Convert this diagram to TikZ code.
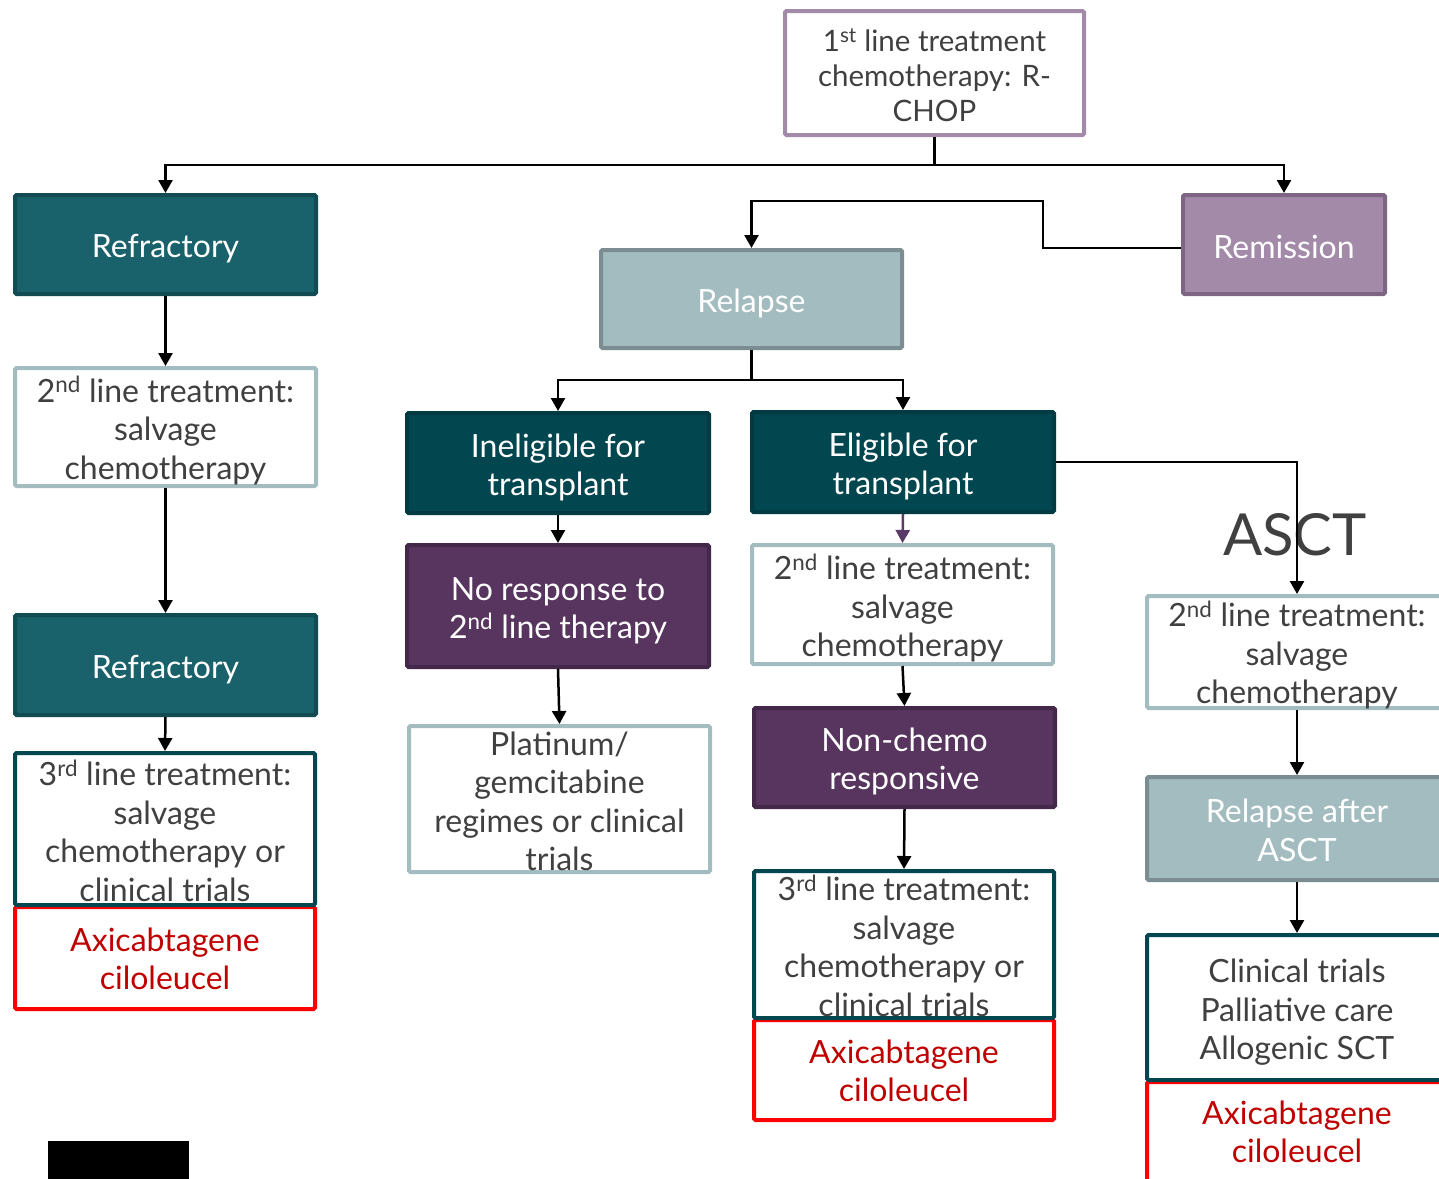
\documentclass[tikz,border=0pt]{standalone}
\usepackage{fontspec}
\setmainfont{Lato}
\usetikzlibrary{arrows.meta}
\definecolor{tealA}{HTML}{19626B}
\definecolor{tealAb}{HTML}{124B52}
\definecolor{dteal}{HTML}{02464F}
\definecolor{dtealb}{HTML}{013A42}
\definecolor{purp}{HTML}{58355F}
\definecolor{purpb}{HTML}{44284A}
\definecolor{lteal}{HTML}{A3BCC0}
\definecolor{ltealb}{HTML}{7B8D90}
\definecolor{mauve}{HTML}{A38AA8}
\definecolor{mauveb}{HTML}{7F6584}
\definecolor{txtgray}{HTML}{404040}
\definecolor{redb}{HTML}{FF0000}
\definecolor{redt}{HTML}{C00000}
\definecolor{arrpurp}{HTML}{5A3A66}
\newcommand\fsmain{\fontsize{32}{38.5}\selectfont}
\newcommand\fstop{\fontsize{29.5}{35}\selectfont}
\tikzset{
  box/.style={rectangle, rounded corners=1.5pt, line width=4pt, inner sep=0pt},
  tealbox/.style={box, fill=tealA, draw=tealAb},
  dtealbox/.style={box, fill=dteal, draw=dtealb},
  purpbox/.style={box, fill=purp, draw=purpb},
  ltealbox/.style={box, fill=lteal, draw=ltealb},
  mauvebox/.style={box, fill=mauve, draw=mauveb},
  wlbox/.style={box, fill=white, draw=lteal},
  wdbox/.style={box, fill=white, draw=dteal},
  redbox/.style={box, fill=white, draw=redb},
  txt/.style={align=center, inner sep=0pt, font=\fsmain},
  wtxt/.style={txt, text=white},
  gtxt/.style={txt, text=txtgray},
  rtxt/.style={txt, text=redt},
  conn/.style={line width=2.5pt, draw=black},
  arr/.style={conn, -{Triangle[length=13pt,width=14pt]}},
}
\begin{document}
\begin{tikzpicture}[x=1pt,y=1pt]
\useasboundingbox (0,0) rectangle (1439,-1178);
\clip (0,0) rectangle (1439,-1178);
% top
\node[wlbox, draw=mauve, minimum width=299, minimum height=124] (top) at (934.5,-73) {};
\node[gtxt, font=\fstop] (topt) at ([yshift=-2]top.center) {1\textsuperscript{st} line treatment\\chemotherapy: R-\\CHOP};
% left column
\node[tealbox, minimum width=301, minimum height=99] (refr1) at (165.5,-244.5) {};
\node[wtxt] (refr1t) at ([yshift=-4]refr1.center) {Refractory};
\node[wlbox, minimum width=301, minimum height=118] (sec1) at (165.5,-427) {};
\node[gtxt] (sec1t) at ([yshift=-3.5]sec1.center) {2\textsuperscript{nd} line treatment:\\salvage\\chemotherapy};
\node[tealbox, minimum width=301, minimum height=100] (refr2) at (165.5,-665) {};
\node[wtxt] (refr2t) at ([yshift=-4.5]refr2.center) {Refractory};
\node[redbox, minimum width=300, minimum height=102] (axi1) at (165,-958) {};
\node[rtxt] (axi1t) at ([yshift=-1]axi1.center) {Axicabtagene\\ciloleucel};
\node[wdbox, minimum width=300, minimum height=152] (third1) at (165,-829) {};
\node[gtxt] (third1t) at ([yshift=-2]third1.center) {3\textsuperscript{rd} line treatment:\\salvage\\chemotherapy or\\clinical trials};
% middle
\node[mauvebox, minimum width=202, minimum height=99] (remis) at (1284,-244.5) {};
\node[wtxt] (remist) at ([yshift=-2.5]remis.center) {Remission};
\node[ltealbox, minimum width=301, minimum height=98] (relapse) at (751.5,-299) {};
\node[wtxt] (relapset) at ([yshift=-4]relapse.center) {Relapse};
\node[dtealbox, minimum width=302, minimum height=100] (inel) at (558,-463) {};
\node[wtxt] (inelt) at ([yshift=-4.5]inel.center) {Ineligible for\\transplant};
\node[dtealbox, minimum width=302, minimum height=100] (elig) at (903,-462) {};
\node[wtxt] (eligt) at ([yshift=-4.5]elig.center) {Eligible for\\transplant};
\node[purpbox, minimum width=302, minimum height=122] (noresp) at (558,-606) {};
\node[wtxt] (noresptt) at ([yshift=-5]noresp.center) {No response to\\2\textsuperscript{nd} line therapy};
\node[wlbox, minimum width=301, minimum height=146] (plat) at (559.5,-799) {};
\node[gtxt] (platt) at ([yshift=-2.5]plat.center) {Platinum/\\gemcitabine\\regimes or clinical\\trials};
\node[wlbox, minimum width=301, minimum height=119] (sec2) at (902.5,-604.5) {};
\node[gtxt] (sec2t) at ([yshift=-3.5]sec2.center) {2\textsuperscript{nd} line treatment:\\salvage\\chemotherapy};
\node[purpbox, minimum width=301, minimum height=99] (nonchemo) at (904.5,-757.5) {};
\node[wtxt] (nonchemot) at ([yshift=-4]nonchemo.center) {Non-chemo\\responsive};
\node[redbox, minimum width=300, minimum height=100] (axi2) at (904,-1070) {};
\node[rtxt] (axi2t) at ([yshift=-1]axi2.center) {Axicabtagene\\ciloleucel};
\node[wdbox, minimum width=300, minimum height=147] (third2) at (904,-944.5) {};
\node[gtxt] (third2t) at ([yshift=-1.5]third2.center) {3\textsuperscript{rd} line treatment:\\salvage\\chemotherapy or\\clinical trials};
% right column
\node[text=txtgray, font=\fontsize{58}{64}\selectfont, inner sep=0pt] (ascttext) at (1295,-535) {ASCT};
\node[wlbox, minimum width=300, minimum height=112] (sec3) at (1297,-652) {};
\node[gtxt] (sec3t) at ([yshift=-3]sec3.center) {2\textsuperscript{nd} line treatment:\\salvage\\chemotherapy};
\node[ltealbox, minimum width=300, minimum height=103] (relasct) at (1297,-828.5) {};
\node[wtxt] (relasctt) at ([yshift=-2]relasct.center) {Relapse after\\ASCT};
\node[redbox, minimum width=300, minimum height=104] (axi3) at (1297,-1134) {};
\node[rtxt] (axi3t) at ([yshift=2]axi3.center) {Axicabtagene\\ciloleucel};
\node[wdbox, minimum width=300, minimum height=145] (clin) at (1297,-1007.5) {};
\node[gtxt] (clint) at ([yshift=-5]clin.center) {Clinical trials\\Palliative care\\Allogenic SCT};
% black bar
\fill[black] (48,-1141) rectangle (189,-1182);
% connectors
\draw[conn] (top.south) -- ++(0,-28) coordinate (tj);
\draw[arr] (tj) -| (refr1.north);
\draw[arr] (tj) -| (remis.north);
\draw[arr] (refr1.south) -- (sec1.north);
\draw[arr] (sec1.south) -- (refr2.north);
\draw[arr] (refr2.south) -- (third1.north);
\draw[arr] ([yshift=-3.5]remis.west) -- ++(-138,0) -- ++(0,47) -| (relapse.north);
\draw[conn] (relapse.south) -- ++(0,-30) coordinate (rj);
\draw[arr] (rj) -| (inel.north);
\draw[arr] (rj) -| (elig.north);
\draw[arr] (inel.south) -- (noresp.north);
\draw[arr] (noresp.south) -- (plat.north);
\draw[arr, draw=arrpurp, fill=arrpurp] (elig.south) -- (sec2.north);
\draw[arr] (sec2.south) -- (nonchemo.north);
\draw[arr] (nonchemo.south) -- (third2.north);
\draw[arr] (elig.east) -| (sec3.north);
\draw[arr] (sec3.south) -- (relasct.north);
\draw[arr] (relasct.south) -- (clin.north);
\end{tikzpicture}
\end{document}
